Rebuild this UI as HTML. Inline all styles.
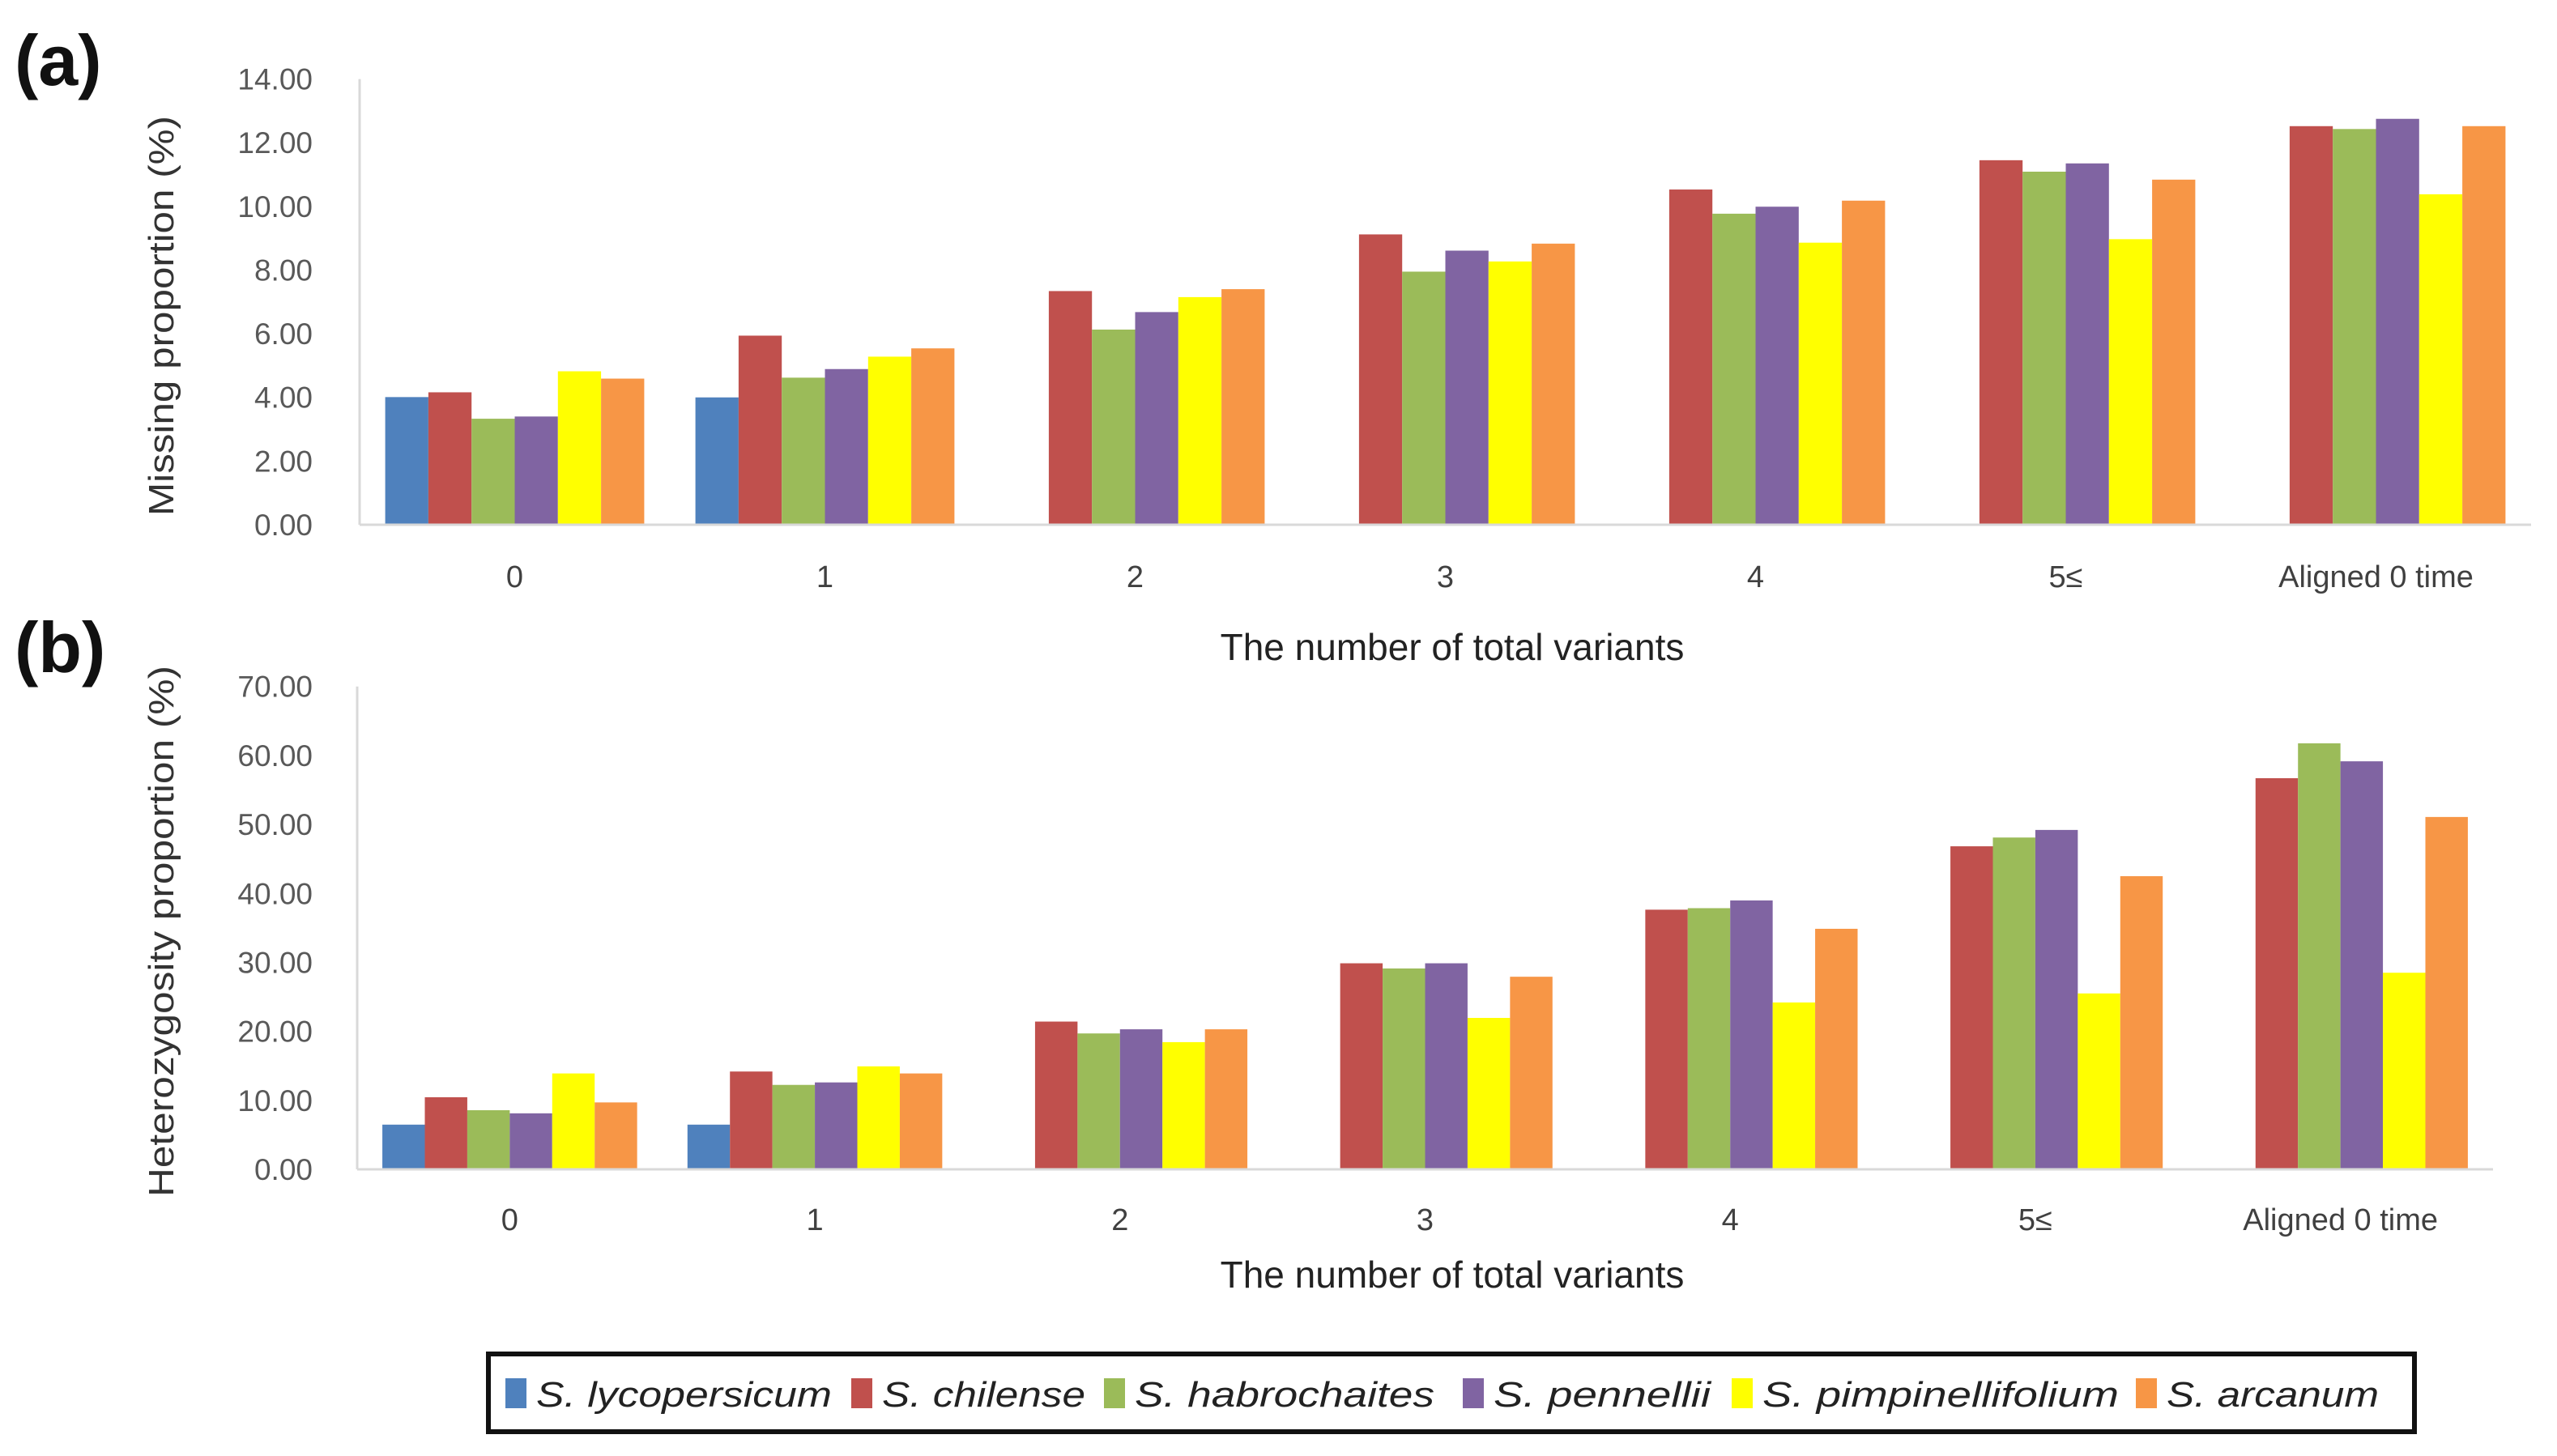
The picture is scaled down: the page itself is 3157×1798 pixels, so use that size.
<!DOCTYPE html>
<html><head><meta charset="utf-8"><style>
html,body{margin:0;padding:0;background:#fff;}
svg{display:block;font-family:"Liberation Sans",sans-serif;}
</style></head><body>
<svg id="fig" width="3157" height="1798" viewBox="0 0 3157 1798" xmlns="http://www.w3.org/2000/svg"></svg>
<script>
const categories = ["0","1","2","3","4","5\u2264","Aligned 0 time"];
const seriesNames = ["S. lycopersicum","S. chilense","S. habrochaites","S. pennellii","S. pimpinellifolium","S. arcanum"];
const seriesColors = ["#4F81BD","#C0504D","#9BBB59","#8064A2","#FFFF00","#F79646"];
const missLyco = [4.01,4.00,0,0,0,0,0];
const missChil = [4.16,5.94,7.34,9.12,10.53,11.45,12.52];
const missHabr = [3.33,4.62,6.13,7.95,9.77,11.09,12.43];
const missPenn = [3.40,4.89,6.68,8.61,9.99,11.35,12.75];
const missPimp = [4.82,5.28,7.15,8.27,8.86,8.97,10.38];
const missArca = [4.59,5.54,7.40,8.83,10.18,10.84,12.52];
const hetLyco = [6.48,6.48,0,0,0,0,0];
const hetChil = [10.45,14.18,21.42,29.87,37.64,46.83,56.7];
const hetHabr = [8.57,12.24,19.7,29.12,37.86,48.1,61.76];
const hetPenn = [8.12,12.6,20.3,29.87,38.98,49.2,59.15];
const hetPimp = [13.9,14.93,18.44,21.95,24.19,25.5,28.5];
const hetArca = [9.7,13.9,20.3,27.92,34.87,42.5,51.08];
const missTicks = ["0.00","2.00","4.00","6.00","8.00","10.00","12.00","14.00"];
const hetTicks = ["0.00","10.00","20.00","30.00","40.00","50.00","60.00","70.00"];

const NS="http://www.w3.org/2000/svg";
const svg=document.getElementById('fig');
function mk(tag,attrs,parent){const e=document.createElementNS(NS,tag);for(const k in attrs)e.setAttribute(k,attrs[k]);(parent||svg).appendChild(e);return e;}

function drawChart(cfg){
  const g=mk('g',{});
  
  
  const step=(cfg.right-cfg.left)/categories.length;
  const bw=step*0.835/6;
  const yScale=v=>cfg.y0-(v/cfg.max)*(cfg.y0-cfg.yTop);
  const xBand=i=>cfg.left+step*i+step/2;
  cfg.ticks.forEach((t,i)=>{
    const v=cfg.max*i/(cfg.ticks.length-1);
    const tx=mk('text',{x:386,y:yScale(v)+13,'text-anchor':'end','font-size':37,fill:'#595959'},g);
    tx.textContent=t;
    
    
  });
  const ax=mk('line',{x1:cfg.left,y1:cfg.yTop,x2:cfg.left,y2:cfg.y0,stroke:'#d9d9d9','stroke-width':3},g);
  
  
  cfg.series.forEach((arr,s)=>{
    arr.forEach((v,i)=>{
      if(v<=0)return;
      const x=xBand(i)-3*bw+s*bw;
      const r=mk('rect',{x:x,y:yScale(v),width:bw,height:cfg.y0-yScale(v),fill:seriesColors[s]},g);
      
      
    });
  });
  const bx=mk('line',{x1:cfg.left,y1:cfg.y0,x2:cfg.right,y2:cfg.y0,stroke:'#d9d9d9','stroke-width':3},g);
  
  
  categories.forEach((c,i)=>{
    const t=mk('text',{x:xBand(i),y:cfg.catY,'text-anchor':'middle','font-size':38,fill:'#404040'},g);
    t.textContent=c;
    
    
  });
  const xt=mk('text',{x:1793,y:cfg.xTitleY,'text-anchor':'middle','font-size':46,fill:'#222'},g);
  xt.textContent='The number of total variants';
  
  
  const yt=mk('text',{x:0,y:0,'text-anchor':'middle','font-size':44,fill:'#333',transform:`translate(214,${cfg.yTitleC}) rotate(-90)`,textLength:cfg.yTitleLen,lengthAdjust:'spacingAndGlyphs'},g);
  yt.textContent=cfg.yTitle;
  
  
  const pl=mk('text',{x:18,y:cfg.panelY,'font-size':88,'font-weight':'bold',fill:'#111'},g);
  pl.textContent=cfg.panel;
  
  
}

drawChart({name:'missing-chart',left:444,right:3125,y0:648,yTop:97.6,max:14,ticks:missTicks,
  series:[missLyco,missChil,missHabr,missPenn,missPimp,missArca],catY:725,xTitleY:815,
  yTitle:'Missing proportion (%)',yTitleC:390,yTitleLen:494,panel:'(a)',panelY:105});
drawChart({name:'heterozygosity-chart',left:441,right:3078,y0:1444,yTop:847.7,max:70,ticks:hetTicks,
  series:[hetLyco,hetChil,hetHabr,hetPenn,hetPimp,hetArca],catY:1519,xTitleY:1590,
  yTitle:'Heterozygosity proportion (%)',yTitleC:1150,yTitleLen:656,panel:'(b)',panelY:830});

const lg=mk('g',{});


const lb=mk('rect',{x:603,y:1672,width:2378,height:96,fill:'#fff',stroke:'#111','stroke-width':6},lg);


const legX=[624,1051,1363,1806,2138,2637];
const legW=[365,251,370,268,440,262];
seriesNames.forEach((n,i)=>{
  const sq=mk('rect',{x:legX[i],y:1702,width:26,height:37,fill:seriesColors[i]},lg);
  
  
  const t=mk('text',{x:legX[i]+38,y:1737,'font-size':44,'font-style':'italic',fill:'#222',textLength:legW[i],lengthAdjust:'spacingAndGlyphs'},lg);
  t.textContent=n;
  
  
});
</script>
</body></html>
